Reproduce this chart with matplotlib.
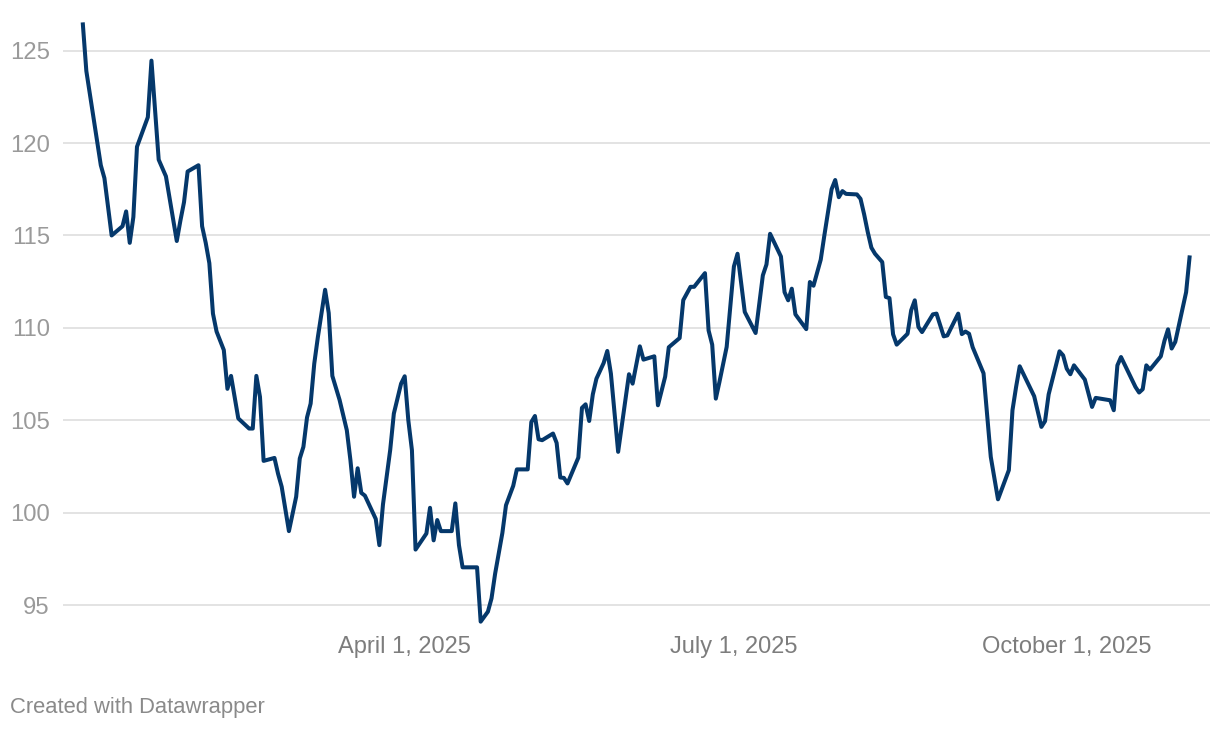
import matplotlib
matplotlib.use("Agg")
import matplotlib.pyplot as plt
import matplotlib.dates as mdates
import numpy as np
import pandas as pd

dates = [
    "2025-01-02", "2025-01-03", "2025-01-07", "2025-01-08", "2025-01-10", "2025-01-13", "2025-01-14",
    "2025-01-15", "2025-01-16", "2025-01-17", "2025-01-20", "2025-01-21", "2025-01-23", "2025-01-25",
    "2025-01-28", "2025-01-29", "2025-01-30", "2025-01-31", "2025-02-03", "2025-02-04", "2025-02-05",
    "2025-02-06", "2025-02-07", "2025-02-08", "2025-02-10", "2025-02-11", "2025-02-12", "2025-02-14",
    "2025-02-17", "2025-02-18", "2025-02-19", "2025-02-20", "2025-02-21", "2025-02-24", "2025-02-25",
    "2025-02-26", "2025-02-28", "2025-03-02", "2025-03-03", "2025-03-04", "2025-03-05", "2025-03-06",
    "2025-03-07", "2025-03-08", "2025-03-10", "2025-03-11", "2025-03-12", "2025-03-14", "2025-03-16",
    "2025-03-17", "2025-03-18", "2025-03-19", "2025-03-20", "2025-03-21", "2025-03-24", "2025-03-25",
    "2025-03-26", "2025-03-28", "2025-03-29", "2025-03-31", "2025-04-01", "2025-04-02", "2025-04-03",
    "2025-04-04", "2025-04-07", "2025-04-08", "2025-04-09", "2025-04-10", "2025-04-11", "2025-04-14",
    "2025-04-15", "2025-04-16", "2025-04-17", "2025-04-21", "2025-04-22", "2025-04-24", "2025-04-25",
    "2025-04-26", "2025-04-28", "2025-04-29", "2025-05-01", "2025-05-02", "2025-05-05", "2025-05-06",
    "2025-05-07", "2025-05-08", "2025-05-09", "2025-05-12", "2025-05-13", "2025-05-14", "2025-05-15",
    "2025-05-16", "2025-05-19", "2025-05-20", "2025-05-21", "2025-05-22", "2025-05-23", "2025-05-24",
    "2025-05-26", "2025-05-27", "2025-05-28", "2025-05-30", "2025-06-02", "2025-06-03", "2025-06-05",
    "2025-06-06", "2025-06-09", "2025-06-10", "2025-06-12", "2025-06-13", "2025-06-16", "2025-06-17",
    "2025-06-19", "2025-06-20", "2025-06-23", "2025-06-24", "2025-06-25", "2025-06-26", "2025-06-27",
    "2025-06-29", "2025-07-01", "2025-07-02", "2025-07-04", "2025-07-07", "2025-07-09", "2025-07-10",
    "2025-07-11", "2025-07-14", "2025-07-15", "2025-07-16", "2025-07-17", "2025-07-18", "2025-07-21",
    "2025-07-22", "2025-07-23", "2025-07-25", "2025-07-26", "2025-07-28", "2025-07-29", "2025-07-30",
    "2025-07-31", "2025-08-01", "2025-08-04", "2025-08-05", "2025-08-06", "2025-08-07", "2025-08-08",
    "2025-08-09", "2025-08-11", "2025-08-12", "2025-08-13", "2025-08-14", "2025-08-15", "2025-08-18",
    "2025-08-19", "2025-08-20", "2025-08-21", "2025-08-22", "2025-08-25", "2025-08-26", "2025-08-28",
    "2025-08-29", "2025-09-01", "2025-09-02", "2025-09-03", "2025-09-04", "2025-09-05", "2025-09-08",
    "2025-09-10", "2025-09-12", "2025-09-15", "2025-09-16", "2025-09-17", "2025-09-18", "2025-09-22",
    "2025-09-24", "2025-09-25", "2025-09-26", "2025-09-29", "2025-09-30", "2025-10-01", "2025-10-02",
    "2025-10-03", "2025-10-06", "2025-10-08", "2025-10-09", "2025-10-13", "2025-10-14", "2025-10-15",
    "2025-10-16", "2025-10-20", "2025-10-21", "2025-10-22", "2025-10-23", "2025-10-24", "2025-10-27",
    "2025-10-28", "2025-10-29", "2025-10-30", "2025-10-31", "2025-11-03", "2025-11-04",
]

values = [
    126.53, 123.9, 118.8, 118.1, 115.0, 115.5, 116.3,
    114.6, 116.0, 119.8, 121.4, 124.46, 119.1, 118.2,
    114.7, 115.8, 116.8, 118.46, 118.8, 115.5, 114.6,
    113.5, 110.77, 109.8, 108.8, 106.7, 107.4, 105.1,
    104.55, 104.55, 107.4, 106.26, 102.8, 102.96, 102.1,
    101.4, 99.0, 100.86, 102.93, 103.56, 105.15, 105.9,
    108.06, 109.5, 112.06, 110.8, 107.4, 106.1, 104.46,
    102.84, 100.86, 102.4, 101.07, 100.92, 99.66, 98.24,
    100.45, 103.4, 105.36, 106.98, 107.38, 105.0, 103.38,
    98.0, 98.87, 100.26, 98.5, 99.6, 99.0, 99.0,
    100.5, 98.24, 97.04, 97.04, 94.1, 94.64, 95.36,
    96.7, 98.9, 100.4, 101.45, 102.34, 102.34, 104.9,
    105.23, 103.97, 103.92, 104.28, 103.77, 101.9, 101.88,
    101.58, 102.98, 105.67, 105.86, 104.96, 106.4, 107.25,
    108.1, 108.75, 107.52, 103.29, 107.49, 106.98, 109.0,
    108.28, 108.46, 105.81, 107.36, 108.95, 109.45, 111.5,
    112.22, 112.22, 112.96, 109.86, 109.09, 106.17, 107.07,
    108.97, 113.32, 114.01, 110.86, 109.72, 112.84, 113.43,
    115.09, 113.86, 111.93, 111.49, 112.12, 110.73, 109.93,
    112.48, 112.28, 113.69, 115.0, 117.5, 118.0, 117.07,
    117.4, 117.25, 117.22, 116.98, 116.14, 115.18, 114.34,
    114.01, 113.56, 111.67, 111.61, 109.65, 109.09, 109.68,
    110.95, 111.49, 110.05, 109.77, 110.73, 110.77, 109.54,
    109.59, 110.77, 109.66, 109.8, 109.68, 108.95, 107.54,
    103.02, 100.72, 102.3, 105.54, 106.8, 107.92, 106.3,
    104.64, 104.95, 106.4, 108.73, 108.51, 107.79, 107.49,
    107.97, 107.2, 105.72, 106.21, 106.08, 105.54, 107.97,
    108.42, 106.8, 106.5, 106.68, 107.97, 107.74, 108.46,
    109.29, 109.92, 108.88, 109.24, 111.93, 113.92,
]

y_ticks = [95, 100, 105, 110, 115, 120, 125]
x_tick_dates = ["2025-04-01", "2025-07-01", "2025-10-01"]
x_tick_labels = ["April 1, 2025", "July 1, 2025", "October 1, 2025"]

W, H = 1220, 730
fig = plt.figure(figsize=(W / 100, H / 100), dpi=100)
fig.patch.set_facecolor("white")

ax_left, ax_right = 63, 1210
ax_top, ax_bottom = 17.4, 627.2
ax = fig.add_axes([ax_left / W, 1 - ax_bottom / H, (ax_right - ax_left) / W, (ax_bottom - ax_top) / H])

x = pd.to_datetime(dates)
ax.plot(x, values, color="#05386b", lw=2.9, solid_joinstyle="round", solid_capstyle="butt",
        zorder=3, clip_on=False)

base = mdates.date2num(pd.Timestamp("2025-01-01"))
ax.set_xlim(base - 4.45, base + 312.6)
ax.set_ylim(93.8, 126.8)

for s in ax.spines.values():
    s.set_visible(False)

ax.set_yticks(y_ticks)
ax.set_yticklabels([str(v) for v in y_ticks])
ax.yaxis.grid(True, color="#e3e3e3", lw=1.4)
ax.set_axisbelow(True)
ax.tick_params(axis="y", length=0, pad=9.4, labelsize=17.2, labelcolor="#9a9a9a")

ax.set_xticks(pd.to_datetime(x_tick_dates))
ax.set_xticklabels(x_tick_labels)
ax.tick_params(axis="x", length=0, pad=6.5, labelsize=17.0, labelcolor="#7d7d7d")

for lab in ax.get_xticklabels() + ax.get_yticklabels():
    lab.set_fontfamily(["Liberation Sans", "DejaVu Sans"])

fig.text(10 / W, 1 - 713 / H, "Created with Datawrapper", fontsize=15.8, color="#8a8a8a",
         family=["Liberation Sans", "DejaVu Sans"], va="baseline", ha="left")

fig.savefig("out.png", dpi=100, facecolor="white")
